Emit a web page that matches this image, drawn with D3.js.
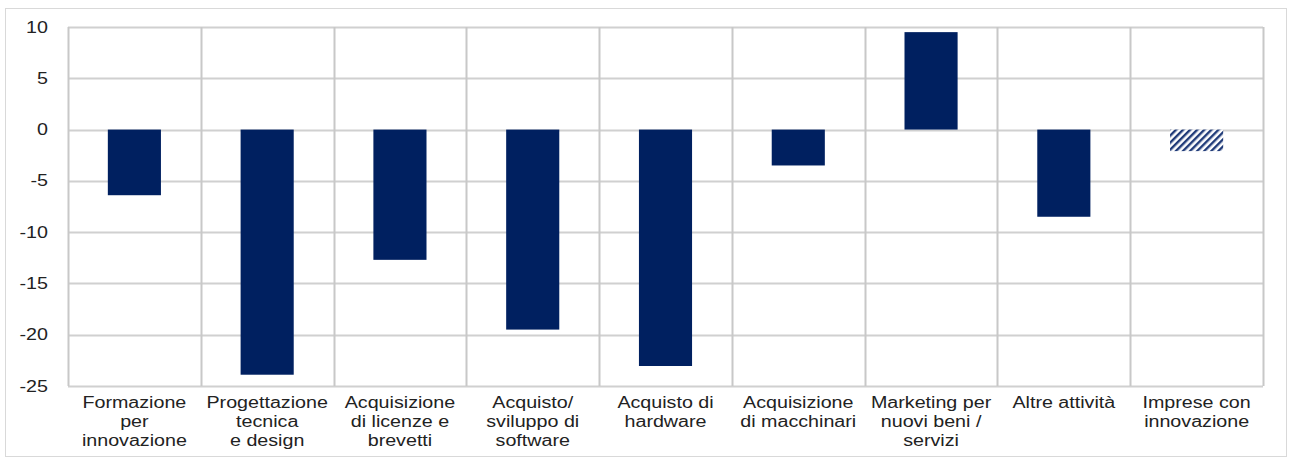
<!DOCTYPE html>
<html>
<head>
<meta charset="utf-8">
<script src="https://d3js.org/d3.v7.min.js"></script>
<style>
  body { margin: 0; background: #fff; }
  text { font-family: "Liberation Sans", Arial, sans-serif; fill: #222; }
</style>
</head>
<body>
<div id="chart"></div>
<script>
// data
var categories = [
  ["Formazione", "per", "innovazione"],
  ["Progettazione", "tecnica", "e design"],
  ["Acquisizione", "di licenze e", "brevetti"],
  ["Acquisto/", "sviluppo di", "software"],
  ["Acquisto di", "hardware"],
  ["Acquisizione", "di macchinari"],
  ["Marketing per", "nuovi beni /", "servizi"],
  ["Altre attività"],
  ["Imprese con", "innovazione"]
];
var values = [-6.4, -23.9, -12.7, -19.5, -23.05, -3.5, 9.5, -8.5, -2.1];
var hatched = [false, false, false, false, false, false, false, false, true];
var yTicks = [10, 5, 0, -5, -10, -15, -20, -25];

var W = 1291, H = 457;
var margin = {top: 27, right: 28, bottom: 71, left: 68};
var width = W - margin.left - margin.right,
    height = H - margin.top - margin.bottom;
var stretch = 1.23; // text in the original looks widened

var svg = d3.select("#chart").append("svg")
    .attr("width", W).attr("height", H);

// outer frame
svg.append("rect")
  .attr("x", 5.5).attr("y", 8.5)
  .attr("width", 1281).attr("height", 448)
  .attr("fill", "none").attr("stroke", "#d9d9d9");

var defs = svg.append("defs");
var pat = defs.append("pattern")
  .attr("id", "hatch").attr("patternUnits", "userSpaceOnUse")
  .attr("width", 5).attr("height", 5)
  .attr("patternTransform", "rotate(45)");
pat.append("rect").attr("width", 5).attr("height", 5).attr("fill", "#fff");
pat.append("rect").attr("width", 2.4).attr("height", 5).attr("fill", "#1f3a78");

var g = svg.append("g")
  .attr("transform", "translate(" + margin.left + "," + margin.top + ")");

var idx = d3.range(categories.length);
var x = d3.scaleBand().domain(idx).range([0, width]).paddingInner(0).paddingOuter(0);
var y = d3.scaleLinear().domain([-25, 10]).range([height, 0]);

// horizontal grid
g.append("g").selectAll("line").data(yTicks).enter().append("line")
  .attr("x1", 0).attr("x2", width)
  .attr("y1", function(d) { return Math.round(y(d)) + 0.5; })
  .attr("y2", function(d) { return Math.round(y(d)) + 0.5; })
  .attr("stroke", "#d0d0d0").attr("stroke-width", 2);

// vertical grid at category borders
var borders = idx.map(function(i) { return x(i); }).concat([width]);
g.append("g").selectAll("line").data(borders).enter().append("line")
  .attr("x1", function(d) { return Math.round(d) + 0.5; })
  .attr("x2", function(d) { return Math.round(d) + 0.5; })
  .attr("y1", 0).attr("y2", height)
  .attr("stroke", "#c8c8c8").attr("stroke-width", 2);

// y axis labels
var yAxis = d3.axisLeft(y).tickValues(yTicks).tickSize(0).tickPadding(0)
  .tickFormat(function(d) { return String(d); });
var ya = g.append("g").call(yAxis);
ya.select(".domain").remove();
ya.selectAll("text")
  .attr("x", 0)
  .attr("transform", "translate(-20,0) scale(" + stretch + ",1)")
  .style("font-size", "16px")
  .style("font-family", "'Liberation Sans', Arial, sans-serif").attr("fill", "#222");

// bars
var bw = x.bandwidth() * 0.4;
g.append("g").selectAll("rect").data(values).enter().append("rect")
  .attr("x", function(d, i) { return x(i) + (x.bandwidth() - bw) / 2; })
  .attr("width", bw)
  .attr("y", function(d) { return y(Math.max(0, d)); })
  .attr("height", function(d) { return Math.abs(y(d) - y(0)); })
  .attr("fill", function(d, i) { return hatched[i] ? "url(#hatch)" : "#002060"; });

// category labels
var lab = g.append("g").selectAll("text").data(categories).enter().append("text")
  .attr("transform", function(d, i) {
    return "translate(" + (x(i) + x.bandwidth() / 2) + "," + (height + 22) + ") scale(" + stretch + ",1)";
  })
  .attr("text-anchor", "middle")
  .style("font-size", "16px");
lab.selectAll("tspan").data(function(d) { return d; }).enter().append("tspan")
  .attr("x", 0)
  .attr("dy", function(d, i) { return i === 0 ? 0 : 19; })
  .text(function(d) { return d; });
</script>
</body>
</html>
